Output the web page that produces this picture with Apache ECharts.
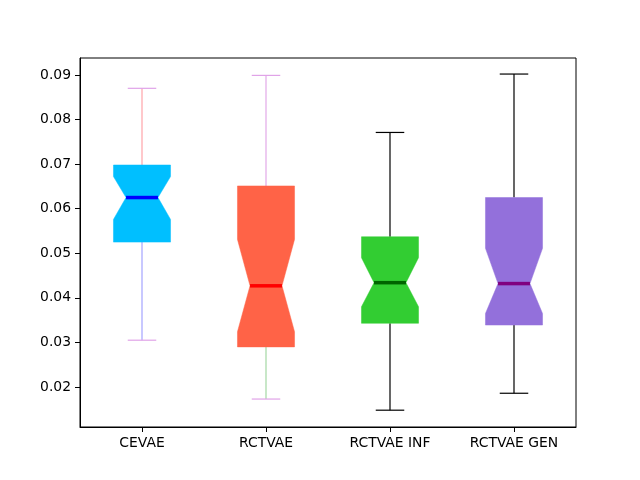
<!DOCTYPE html>
<html>
<head>
<meta charset="utf-8">
<script src="https://cdn.jsdelivr.net/npm/echarts@6/dist/echarts.min.js"></script>
<style>html,body{margin:0;padding:0;background:#fff}#c{width:640px;height:480px}</style>
</head>
<body>
<div id="c"></div>
<script>
const categories = ['CEVAE', 'RCTVAE', 'RCTVAE INF', 'RCTVAE GEN'];
const lowerWhisker = [0.0305, 0.0173, 0.0148, 0.0186];
const q1 = [0.0525, 0.0290, 0.0343, 0.0339];
const median = [0.0625, 0.0427, 0.0434, 0.0432];
const q3 = [0.0698, 0.0651, 0.0537, 0.0625];
const upperWhisker = [0.0870, 0.0899, 0.0771, 0.0902];
const notchLow = [0.0576, 0.0324, 0.0380, 0.0365];
const notchHigh = [0.0672, 0.0531, 0.0490, 0.0511];
const yTicks = [0.02, 0.03, 0.04, 0.05, 0.06, 0.07, 0.08, 0.09];

const boxColors = ['#00bfff', '#ff6347', '#32cd32', '#9370db'];
const medianColors = ['#0000ff', '#ff0000', '#006400', '#800080'];
const upperWhiskerColors = ['#ffa3a8', '#e2a8e8', '#000000', '#000000'];
const lowerWhiskerColors = ['#a3a3ff', '#a3d8a3', '#000000', '#000000'];
const capColors = ['#e0a3e8', '#e0a3e8', '#000000', '#000000'];

const data = categories.map((c, i) => [i, lowerWhisker[i], q1[i], median[i], q3[i], upperWhisker[i], notchLow[i], notchHigh[i]]);

function renderItem(params, api) {
  const i = api.value(0);
  const band = api.size([1, 0])[0];
  const boxW = band * 0.46;
  const notchW = boxW * 0.56;
  const capW = boxW * 0.5;
  const x = api.coord([i, 0])[0];
  const y = v => api.coord([i, v])[1];
  const yLW = y(api.value(1)), yQ1 = y(api.value(2)), yMed = y(api.value(3)),
        yQ3 = y(api.value(4)), yUW = y(api.value(5)), yNL = y(api.value(6)), yNH = y(api.value(7));
  const hb = boxW / 2, hn = notchW / 2, hc = capW / 2;
  const pts = [
    [x - hb, yQ3], [x + hb, yQ3], [x + hb, yNH], [x + hn, yMed], [x + hb, yNL],
    [x + hb, yQ1], [x - hb, yQ1], [x - hb, yNL], [x - hn, yMed], [x - hb, yNH]
  ];
  return {
    type: 'group',
    children: [
      { type: 'line', shape: { x1: x, y1: yQ3, x2: x, y2: yUW }, style: { stroke: upperWhiskerColors[i], lineWidth: 1.2 } },
      { type: 'line', shape: { x1: x, y1: yQ1, x2: x, y2: yLW }, style: { stroke: lowerWhiskerColors[i], lineWidth: 1.2 } },
      { type: 'line', shape: { x1: x - hc, y1: yUW, x2: x + hc, y2: yUW }, style: { stroke: capColors[i], lineWidth: 1.2 } },
      { type: 'line', shape: { x1: x - hc, y1: yLW, x2: x + hc, y2: yLW }, style: { stroke: capColors[i], lineWidth: 1.2 } },
      { type: 'polygon', shape: { points: pts }, style: { fill: boxColors[i], stroke: boxColors[i], lineWidth: 0.5 } },
      { type: 'line', shape: { x1: x - hn, y1: yMed, x2: x + hn, y2: yMed }, style: { stroke: medianColors[i], lineWidth: 3.5 } }
    ]
  };
}

const chart = echarts.init(document.getElementById('c'), null, { renderer: 'canvas' });
const font = 'DejaVu Sans';
chart.setOption({
  animation: false,
  backgroundColor: '#ffffff',
  grid: { left: 80, right: 64, top: 58, bottom: 53, show: true, borderColor: '#000', borderWidth: 1, backgroundColor: 'transparent' },
  xAxis: {
    type: 'category',
    data: categories,
    boundaryGap: true,
    axisLine: { show: true, lineStyle: { color: '#000', width: 1 } },
    axisTick: { show: true, alignWithLabel: true, length: 5, lineStyle: { color: '#000' } },
    axisLabel: { color: '#000', fontFamily: font, fontSize: 13.9, margin: 9 },
    splitLine: { show: false }
  },
  yAxis: {
    type: 'value',
    min: 0.01103,
    max: 0.0938,
    axisLine: { show: true, lineStyle: { color: '#000', width: 1 } },
    axisTick: { show: true, length: 5, lineStyle: { color: '#000' }, customValues: yTicks },
    axisLabel: { color: '#000', fontFamily: font, fontSize: 13.9, margin: 9, customValues: yTicks,
      formatter: v => v.toFixed(2) },
    splitLine: { show: false }
  },
  series: [{
    type: 'custom',
    renderItem: renderItem,
    encode: { x: 0, y: [1, 2, 3, 4, 5] },
    data: data
  }]
});
</script>
</body>
</html>
